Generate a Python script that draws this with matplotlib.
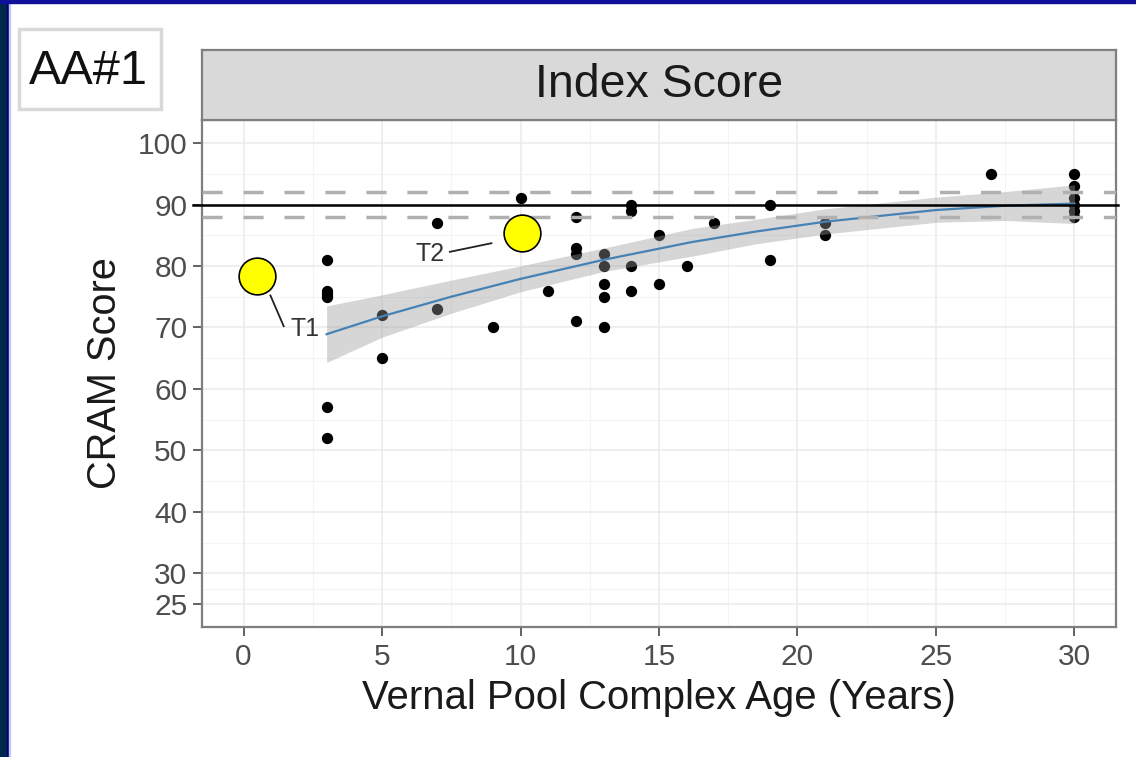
import numpy as np
import matplotlib
matplotlib.use("Agg")
import matplotlib.pyplot as plt
from matplotlib.patches import Rectangle

plt.rcParams['font.family'] = ['Liberation Sans', 'DejaVu Sans']

# reference sites: age (years) vs CRAM index score
age = [3, 3, 3, 3, 3, 3, 5, 5, 7, 7, 9, 10, 11, 12, 12, 12, 12,
       13, 13, 13, 13, 13, 14, 14, 14, 14, 15, 15, 16, 17, 19, 19,
       21, 21, 27, 30, 30, 30, 30, 30, 30]
score = [81, 76, 75.5, 75, 57, 52, 72, 65, 87, 73, 70, 91, 76, 88, 83, 82, 71,
         82, 80, 77, 75, 70, 90, 89, 80, 76, 85, 77, 80, 87, 90, 81,
         87, 85, 95, 95, 93, 91, 90, 89, 88]

# smoothed trend and its confidence band
fit_x = [3, 5, 7.5, 10, 13, 16.2, 18.5, 21, 25, 27.5, 30]
fit_y = [68.9, 71.8, 75.0, 77.9, 81.0, 83.9, 85.6, 87.2, 89.1, 89.8, 90.15]
fit_lo = [64.3, 68.4, 72.3, 75.8, 79.1, 81.6, 83.6, 85.2, 87.1, 87.4, 86.9]
fit_hi = [73.5, 75.3, 77.7, 80.0, 82.9, 86.1, 87.6, 89.3, 91.2, 92.1, 93.2]

# highlighted test sites
test_names = ['T1', 'T2']
test_age = [0.5, 10.05]
test_score = [78.3, 85.4]
test_text_xy = [(1.7, 69.8), (6.2, 82.0)]
test_line = [((0.97, 75.2), (1.45, 70.2)), ((7.45, 82.3), (8.95, 83.7))]

target = 90
target_band = [88, 92]

xticks = [0, 5, 10, 15, 20, 25, 30]
yticks = [25, 30, 40, 50, 60, 70, 80, 90, 100]

fig = plt.figure(figsize=(11.36, 7.57), dpi=100)
W, H = 1136, 757

# slide border
fig.patches.append(Rectangle((0, 0), 7 / W, 1, transform=fig.transFigure, color='#00284d', zorder=0))
fig.patches.append(Rectangle((7 / W, 0), 2 / W, 1, transform=fig.transFigure, color='#000080', zorder=0))
fig.patches.append(Rectangle((9 / W, 0), 1 / W, 1, transform=fig.transFigure, color='#c8c8f0', zorder=0))
fig.patches.append(Rectangle((0, 1 - 3 / H), 1, 3 / H, transform=fig.transFigure, color='#10109a', zorder=0))

ax = fig.add_axes([202 / W, 1 - 627 / H, (1116 - 202) / W, (627 - 120) / H])
ax.set_xlim(-1.5, 31.5)
ax.set_ylim(21.25, 103.75)

# grid
for v in np.arange(-2.5, 32.6, 5):
    ax.axvline(v, color='#f4f4f4', lw=0.8, zorder=0)
for v in [27.5, 35, 45, 55, 65, 75, 85, 95]:
    ax.axhline(v, color='#f4f4f4', lw=0.8, zorder=0)
for v in xticks:
    ax.axvline(v, color='#ebebeb', lw=1.1, zorder=0)
for v in yticks:
    ax.axhline(v, color='#ebebeb', lw=1.1, zorder=0)

ax.scatter(age, score, s=66, color='black', zorder=3, linewidths=0)
ax.fill_between(fit_x, fit_lo, fit_hi, color='#999999', alpha=0.4, linewidth=0, zorder=4)
ax.plot(fit_x, fit_y, color='#4682b4', lw=1.6, zorder=5, solid_joinstyle='round')

for b in target_band:
    ax.axhline(b, color='#b0b0b0', lw=2.5, ls=(0, (5.8, 6)), zorder=6)
ax.plot([-0.01, 1.002], [target, target], color='black', lw=1.8, zorder=7,
        transform=ax.get_yaxis_transform(), clip_on=False)

ax.scatter(test_age, test_score, s=700, color='#ffff00', edgecolor='black',
           linewidths=1.2, zorder=8)
for name, (tx, ty), (p0, p1) in zip(test_names, test_text_xy, test_line):
    ax.plot([p0[0], p1[0]], [p0[1], p1[1]], color='#222222', lw=1.3, zorder=8)
    ax.text(tx, ty, name, fontsize=18, color='#333333', ha='left', va='center', zorder=9)

ax.set_xticks(xticks)
ax.set_yticks(yticks)
ax.tick_params(axis='both', length=6.5, width=1.3, color='#555555',
               labelsize=21.5, labelcolor='#4d4d4d')
ax.tick_params(axis='x', pad=5)
ax.tick_params(axis='y', pad=4)
for sp in ax.spines.values():
    sp.set_color('#7f7f7f')
    sp.set_linewidth(1.6)

ax.set_xlabel('Vernal Pool Complex Age (Years)', fontsize=28.9, color='#1a1a1a', labelpad=6)
ax.set_ylabel('CRAM Score', fontsize=28.6, color='#1a1a1a', labelpad=10)

# facet strip
strip = fig.add_axes([202 / W, 1 - 120 / H, (1116 - 202) / W, (120 - 50) / H])
strip.set_facecolor('#d9d9d9')
strip.set_xticks([])
strip.set_yticks([])
for sp in strip.spines.values():
    sp.set_color('#7f7f7f')
    sp.set_linewidth(1.6)
strip.text(0.5, 0.5, 'Index Score', fontsize=33.5, color='#1a1a1a',
           ha='center', va='center', transform=strip.transAxes)

# panel tag
fig.patches.append(Rectangle((19 / W, 1 - 109 / H), 142 / W, 80 / H, transform=fig.transFigure,
                             facecolor='white', edgecolor='#d9d9d9', linewidth=2.5, zorder=1))
fig.text(88 / W, 1 - 71 / H, 'AA#1', fontsize=35, color='#111111', ha='center', va='center')

fig.savefig('out.png', dpi=100)
